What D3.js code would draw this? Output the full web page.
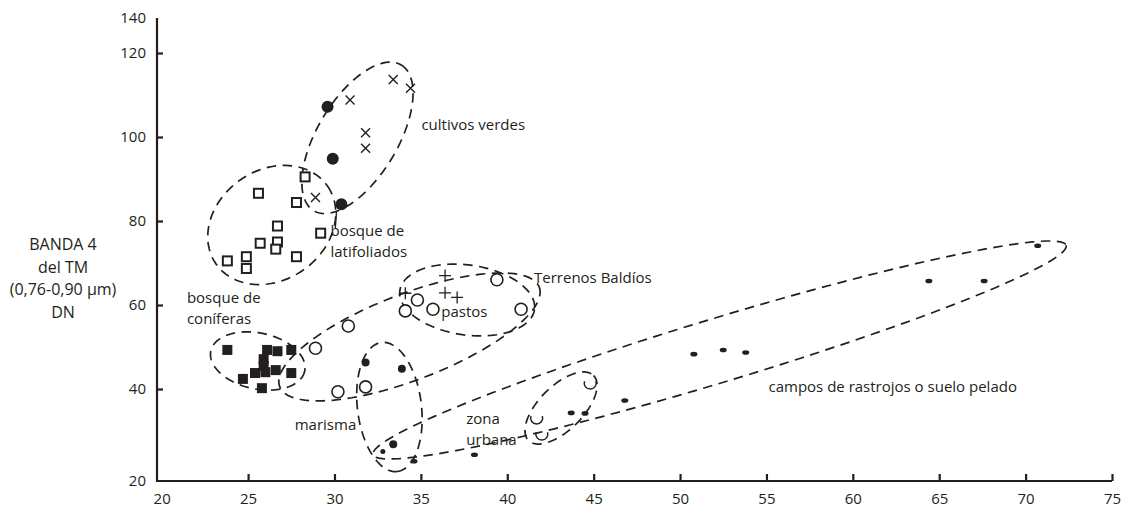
<!DOCTYPE html>
<html><head><meta charset="utf-8">
<script src="https://cdn.jsdelivr.net/npm/d3@7"></script>
<style>
html,body{margin:0;padding:0;background:#fff;}
svg text{font-family:"Open Sans","Noto Sans",sans-serif;fill:#231f20;}
</style></head>
<body><svg id="c" width="1129" height="510"></svg>
<script>
// ---- data ----
const xTicks = [20,25,30,35,40,45,50,55,60,65,70,75];
const yTicks = [20,40,60,80,100,120,140];
const yTitle = ["BANDA 4","del TM","(0,76-0,90 µm)","DN"];

const cultivosDots  = [[29.6,107.2],[29.9,94.8],[30.4,84.0]];
const cultivosCross = [[30.9,108.8],[33.4,113.7],[34.4,111.6],[31.8,101.0],[31.8,97.3],[28.9,85.6]];
const latifoliados  = [[28.3,90.5],[25.6,86.6],[27.8,84.4],[26.7,78.8],[25.7,74.7],[26.7,75.0],
                       [26.6,73.3],[27.8,71.5],[24.9,71.5],[23.8,70.5],[24.9,68.7],[29.2,77.1]];
const coniferas     = [[23.8,49.3],[26.1,49.3],[26.7,49.0],[27.5,49.3],[25.9,47.1],[25.9,45.5],
                       [25.4,43.8],[26.0,44.0],[26.6,44.5],[27.5,43.8],[24.7,42.4],[25.8,40.2]];
const baldios       = [[28.9,49.7],[30.8,55.0],[30.2,39.4],[31.8,40.5],[34.1,58.6],[34.8,61.2],
                       [35.7,59.0],[39.4,66.0],[40.8,59.0]];
const pastos        = [[36.4,67.0],[36.4,62.9],[37.1,61.8],[34.1,62.8]];
const marisma       = [[31.8,46.3],[33.9,44.8],[33.4,28.0]];
const marismaMinor  = [[32.8,26.4]];
const rastrojos     = [[34.6,24.3],[38.1,25.7],[43.7,34.8],[44.5,34.7],[46.8,37.5],[50.8,48.3],
                       [52.5,49.3],[53.8,48.7],[64.4,65.7],[67.6,65.7],[70.7,74.1]];
const urbana        = [[41.7,33.7],[42.0,30.2],[44.8,41.4]];

// envelope centres (data units)
const envCentres = [[31.33,99.8],[26.37,79.05],[25.56,46.67],[37.68,61.19],[34.34,52.4],[33.18,36.09],[52.29,49.29],[43.11,35.87]];
// label texts and anchor (data units)
const labelTexts = [["cultivos verdes"],["bosque de","latifoliados"],["bosque de","coníferas"],["Terrenos Baldíos"],
                    ["pastos"],["marisma"],["zona","urbana"],["campos de rastrojos o suelo pelado"]];
const labelAnchors = [[35.03,101.67],[29.77,76.4],[21.46,60.45],[41.55,65.24],[36.18,57.14],[27.70,31.09],[37.63,32.4],[55.12,39.35]];
const leader = [[30.12,82.4],[30.05,78.3]];

// ---- layout / style (pixels) ----
const envShape = [ // semi-axes and rotation in px / degrees
  {a:85,b:40,ang:-59},{a:68,b:55,ang:-35},{a:48,b:28,ang:12},{a:68,b:35,ang:8},
  {a:139,b:43,ang:-21},{a:65,b:32,ang:83},{a:362,b:32,ang:-16.8},{a:46,b:22,ang:-45}];
const ink = "#231f20";

const svg = d3.select("#c");
const x = d3.scaleLinear().domain([20,75]).range([161.7,1112]);
const y = d3.scaleLinear().domain([20,40,120,140]).range([481,389,53,18]);
const axisX = x(20) - 4.7;

// axes
const gx = svg.append("g").attr("transform",`translate(0,${y(20)})`)
  .call(d3.axisBottom(x).tickValues(xTicks).tickSizeInner(-7).tickSizeOuter(0).tickPadding(12));
gx.select(".domain").remove();
gx.selectAll(".tick line").attr("stroke",ink).attr("stroke-width",2.2).filter(d=>d===20).remove();
gx.selectAll(".tick text").attr("font-size",15).attr("fill",ink).style("font-family",null);

const gy = svg.append("g").attr("transform",`translate(${axisX},0)`)
  .call(d3.axisLeft(y).tickValues(yTicks).tickSizeInner(-6).tickSizeOuter(0).tickPadding(11));
gy.select(".domain").remove();
gy.selectAll(".tick line").attr("stroke",ink).attr("stroke-width",2.2).filter(d=>d===20||d===140).remove();
gy.selectAll(".tick text").attr("font-size",15).attr("fill",ink).style("font-family",null);

svg.append("line").attr("x1",axisX).attr("x2",axisX).attr("y1",y(140)).attr("y2",y(20)+1)
  .attr("stroke",ink).attr("stroke-width",2.2);
svg.append("line").attr("x1",axisX-1).attr("x2",x(75)).attr("y1",y(20)).attr("y2",y(20))
  .attr("stroke",ink).attr("stroke-width",2.2);

// y title
svg.append("text").attr("text-anchor","middle").attr("font-size",16)
  .selectAll("tspan").data(yTitle).join("tspan")
  .attr("x",63).attr("y",(d,i)=>250+i*22.5).text(d=>d);

// envelopes
const line = d3.line().curve(d3.curveLinearClosed);
envCentres.forEach((c,i)=>{
  const s = envShape[i], cx = x(c[0]), cy = y(c[1]), t = s.ang*Math.PI/180;
  const pts = d3.range(0,360,3).map(deg=>{
    const p = deg*Math.PI/180, ex = s.a*Math.cos(p), ey = s.b*Math.sin(p);
    return [cx + ex*Math.cos(t) - ey*Math.sin(t), cy + ex*Math.sin(t) + ey*Math.cos(t)];
  });
  svg.append("path").attr("d",line(pts)).attr("fill","none").attr("stroke",ink)
    .attr("stroke-width",1.7).attr("stroke-dasharray","9.5,6.5");
});
svg.append("line").attr("x1",x(leader[0][0])).attr("y1",y(leader[0][1]))
  .attr("x2",x(leader[1][0])).attr("y2",y(leader[1][1])).attr("stroke",ink).attr("stroke-width",1.3);

const tr = d=>`translate(${x(d[0])},${y(d[1])})`;
// marks
svg.append("g").selectAll("circle").data(cultivosDots).join("circle")
  .attr("cx",d=>x(d[0])).attr("cy",d=>y(d[1])).attr("r",6).attr("fill",ink);
svg.append("g").selectAll("path").data(cultivosCross).join("path").attr("transform",tr)
  .attr("d","M-4.5,-4.5L4.5,4.5M-4.5,4.5L4.5,-4.5").attr("stroke",ink).attr("stroke-width",1.4);
svg.append("g").selectAll("rect").data(latifoliados).join("rect").attr("transform",tr)
  .attr("x",-4.5).attr("y",-4.5).attr("width",9).attr("height",9)
  .attr("fill","#fff").attr("stroke",ink).attr("stroke-width",2);
svg.append("g").selectAll("rect").data(coniferas).join("rect").attr("transform",tr)
  .attr("x",-5).attr("y",-5).attr("width",10).attr("height",10).attr("fill",ink);
svg.append("g").selectAll("circle").data(baldios).join("circle")
  .attr("cx",d=>x(d[0])).attr("cy",d=>y(d[1])).attr("r",6).attr("fill","#fff")
  .attr("stroke",ink).attr("stroke-width",1.6);
svg.append("g").selectAll("path").data(pastos).join("path").attr("transform",tr)
  .attr("d","M-6,0H6M0,-6V6").attr("stroke",ink).attr("stroke-width",1.3);
svg.append("g").selectAll("circle").data(marisma).join("circle")
  .attr("cx",d=>x(d[0])).attr("cy",d=>y(d[1])).attr("r",4).attr("fill",ink);
svg.append("g").selectAll("circle").data(marismaMinor).join("circle")
  .attr("cx",d=>x(d[0])).attr("cy",d=>y(d[1])).attr("r",2.5).attr("fill",ink);
svg.append("g").selectAll("ellipse").data(rastrojos).join("ellipse")
  .attr("cx",d=>x(d[0])).attr("cy",d=>y(d[1])).attr("rx",3.5).attr("ry",2.3).attr("fill",ink);
svg.append("g").selectAll("path").data(urbana).join("path").attr("transform",tr)
  .attr("d","M-5.7,-1.9A6,6 0 1 0 5.7,-1.9").attr("fill","none").attr("stroke",ink).attr("stroke-width",1.5);

// labels
labelTexts.forEach((lines,i)=>{
  const a = labelAnchors[i];
  svg.append("text").attr("font-size",15)
    .selectAll("tspan").data(lines).join("tspan")
    .attr("x",x(a[0])).attr("y",(d,j)=>y(a[1])+j*20.8).text(d=>d);
});
</script></body></html>
